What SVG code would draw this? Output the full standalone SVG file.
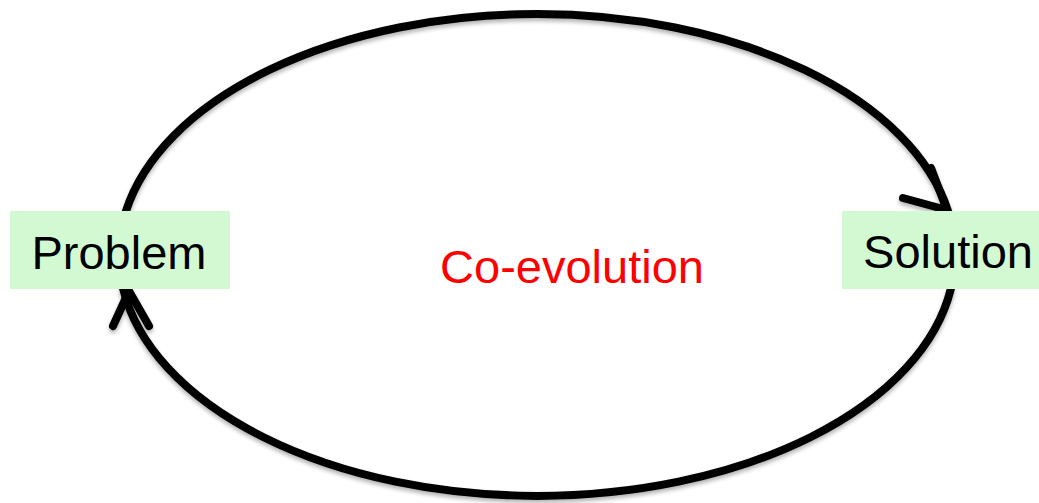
<svg xmlns="http://www.w3.org/2000/svg" width="1039" height="503" viewBox="0 0 1039 503">
<style>
.arc{fill:none;stroke:#000;stroke-width:8;stroke-linecap:round;stroke-linejoin:round}
.box{fill:#d3f9d3}
.lbl{font-family:"Liberation Sans",Arial,sans-serif;font-size:47px;fill:#000}
.mid{font-family:"Liberation Sans",Arial,sans-serif;font-size:47px;fill:#ff0000}
</style>
<defs>
<filter id="sh" x="-10%" y="-10%" width="120%" height="130%">
<feGaussianBlur in="SourceAlpha" stdDeviation="2"/>
<feOffset dx="0" dy="3" result="b"/>
<feComponentTransfer><feFuncA type="linear" slope="0.3"/></feComponentTransfer>
<feMerge><feMergeNode/><feMergeNode in="SourceGraphic"/></feMerge>
</filter>
</defs>
<g id="connectors" filter="url(#sh)">
<path class="arc" d="M126.02 211 A418 241 0 0 1 947.98 211"/>
<polyline class="arc" points="903,198 947,210 931,168"/>
<path class="arc" d="M950.8 289 A418 241 0 0 1 123.2 289"/>
<polyline class="arc" points="113,326 129,291 149,326"/>
</g>
<g id="problem">
<rect class="box" x="10" y="211" width="220" height="78"/>
<text class="lbl" x="119" y="269" text-anchor="middle">Problem</text>
</g>
<g id="solution">
<rect class="box" x="842" y="211" width="197" height="78"/>
<text class="lbl" x="948" y="268" text-anchor="middle">Solution</text>
</g>
<g id="label">
<text class="mid" x="572" y="283" text-anchor="middle">Co-evolution</text>
</g>
</svg>
